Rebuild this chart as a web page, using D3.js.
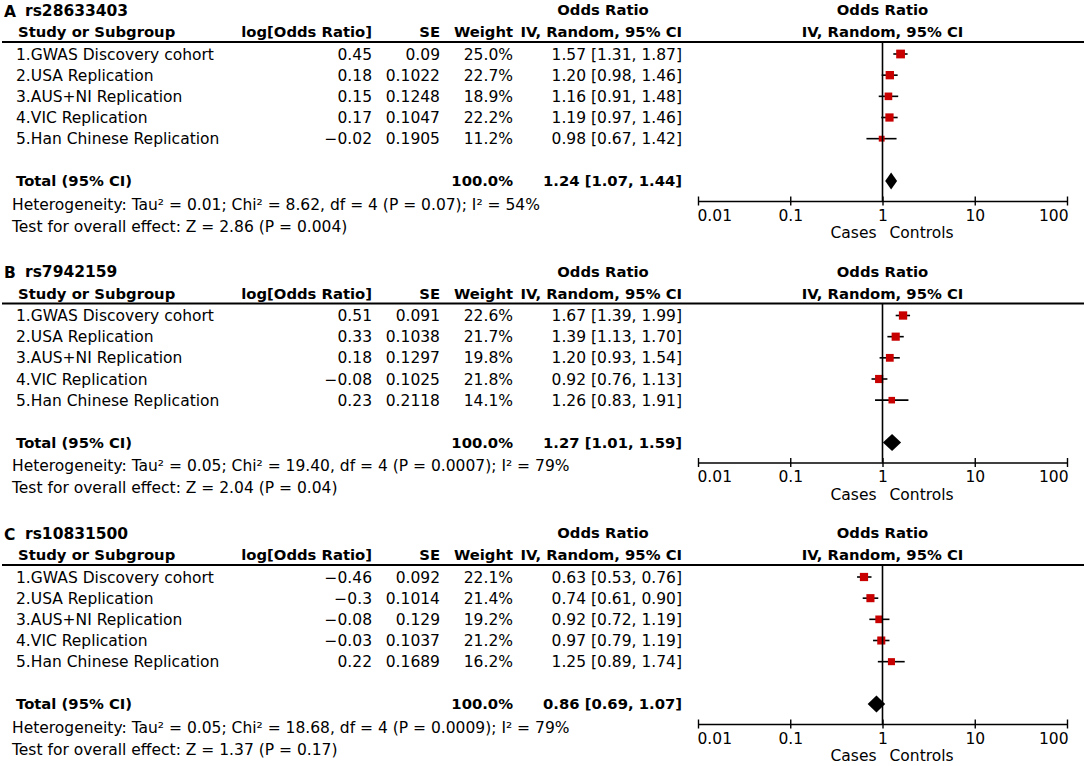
<!DOCTYPE html>
<html lang="en">
  <head>
    <meta charset="UTF-8" />
    <title>Forest plots</title>
    <script src="https://cdn.jsdelivr.net/npm/d3@7"></script>
    <style>
      body { margin: 0; background: #fff; }
      svg text { font-family: "DejaVu Sans", sans-serif; font-size: 15.5px; fill: #000; }
      svg text.b { font-weight: bold; font-size: 14.8px; }
    </style>
  </head>
  <body>
    <div id="container"></div>
    <script>
      // data
      const studies = ['1.GWAS Discovery cohort', '2.USA Replication', '3.AUS+NI Replication', '4.VIC Replication', '5.Han Chinese Replication']
      const panelLetters = ['A', 'B', 'C']
      const snpIds = ['rs28633403', 'rs7942159', 'rs10831500']
      const logOdds = [
        [0.45, 0.18, 0.15, 0.17, -0.02],
        [0.51, 0.33, 0.18, -0.08, 0.23],
        [-0.46, -0.3, -0.08, -0.03, 0.22]
      ]
      const stdErr = [
        [0.09, 0.1022, 0.1248, 0.1047, 0.1905],
        [0.091, 0.1038, 0.1297, 0.1025, 0.2118],
        [0.092, 0.1014, 0.129, 0.1037, 0.1689]
      ]
      const weights = [
        [25.0, 22.7, 18.9, 22.2, 11.2],
        [22.6, 21.7, 19.8, 21.8, 14.1],
        [22.1, 21.4, 19.2, 21.2, 16.2]
      ]
      const oddsRatio = [
        [1.57, 1.20, 1.16, 1.19, 0.98],
        [1.67, 1.39, 1.20, 0.92, 1.26],
        [0.63, 0.74, 0.92, 0.97, 1.25]
      ]
      const ciLow = [
        [1.31, 0.98, 0.91, 0.97, 0.67],
        [1.39, 1.13, 0.93, 0.76, 0.83],
        [0.53, 0.61, 0.72, 0.79, 0.89]
      ]
      const ciHigh = [
        [1.87, 1.46, 1.48, 1.46, 1.42],
        [1.99, 1.70, 1.54, 1.13, 1.91],
        [0.76, 0.90, 1.19, 1.19, 1.74]
      ]
      const totalOr = [1.24, 1.27, 0.86]
      const totalLow = [1.07, 1.01, 0.69]
      const totalHigh = [1.44, 1.59, 1.07]
      const tau2 = ['0.01', '0.05', '0.05']
      const chi2 = ['8.62', '19.40', '18.68']
      const hetP = ['0.07', '0.0007', '0.0009']
      const iSquared = [54, 79, 79]
      const zValue = ['2.86', '2.04', '1.37']
      const zP = ['0.004', '0.04', '0.17']
      const tickValues = [0.01, 0.1, 1, 10, 100]
      const tickLabels = ['0.01', '0.1', '1', '10', '100']

      const width = 1084
      const height = 766
      const panelStep = 261.5

      // column right edges
      const colLog = 372, colSe = 440, colWeight = 513, colCi = 682
      const textLeft = 16

      const x = d3.scaleLog().domain([0.01, 100]).range([698, 1067])
      const y = d3.scaleLinear().domain([0, 6]).range([54, 181])
      const lineY = 42
      const axisY = 201

      const fmtNeg = v => String(v).replace('-', '\u2212')
      const f2 = d3.format('.2f')

      const svg = d3.create('svg')
        .attr('width', width)
        .attr('height', height)
        .attr('viewBox', [0, 0, width, height])

      panelLetters.forEach((letter, p) => {
        const g = svg.append('g').attr('transform', `translate(0, ${p * panelStep})`)

        const txt = (tx, ty, s, anchor = 'start', bold = false) =>
          g.append('text')
            .attr('class', bold ? 'b' : null)
            .attr('x', tx).attr('y', ty).attr('dy', '0.36em')
            .attr('text-anchor', anchor)
            .text(s)

        // titles and headers
        txt(4, 11, letter, 'start', true).style('font-size', '15.5px')
        txt(25, 10, snpIds[p], 'start', true).style('font-size', '15.5px')
        txt(603, 10, 'Odds Ratio', 'middle', true)
        txt(x(1), 10, 'Odds Ratio', 'middle', true)
        txt(textLeft + 2, 32, 'Study or Subgroup', 'start', true)
        txt(colLog, 32, 'log[Odds Ratio]', 'end', true)
        txt(colSe, 32, 'SE', 'end', true)
        txt(colWeight, 32, 'Weight', 'end', true)
        txt(colCi, 32, 'IV, Random, 95% CI', 'end', true)
        txt(x(1), 32, 'IV, Random, 95% CI', 'middle', true)

        g.append('line')
          .attr('x1', 2).attr('x2', width)
          .attr('y1', lineY).attr('y2', lineY)
          .attr('stroke', '#000').attr('stroke-width', 1.8)

        // study rows
        const rows = g.append('g').selectAll('g')
          .data(studies.map((s, i) => ({ s, i })))
          .join('g')
          .attr('transform', d => `translate(0, ${y(d.i)})`)
        rows.append('text').attr('x', textLeft).attr('dy', '0.36em').text(d => d.s)
        rows.append('text').attr('x', colLog).attr('dy', '0.36em').attr('text-anchor', 'end')
          .text(d => fmtNeg(logOdds[p][d.i]))
        rows.append('text').attr('x', colSe).attr('dy', '0.36em').attr('text-anchor', 'end')
          .text(d => String(stdErr[p][d.i]))
        rows.append('text').attr('x', colWeight).attr('dy', '0.36em').attr('text-anchor', 'end')
          .text(d => weights[p][d.i].toFixed(1) + '%')
        rows.append('text').attr('x', colCi).attr('dy', '0.36em').attr('text-anchor', 'end')
          .text(d => `${f2(oddsRatio[p][d.i])} [${f2(ciLow[p][d.i])}, ${f2(ciHigh[p][d.i])}]`)

        // total row
        txt(textLeft, y(6), 'Total (95% CI)', 'start', true)
        txt(colWeight, y(6), '100.0%', 'end', true)
        txt(colCi, y(6), `${f2(totalOr[p])} [${f2(totalLow[p])}, ${f2(totalHigh[p])}]`, 'end', true)

        txt(textLeft - 4, 204, `Heterogeneity: Tau\u00b2 = ${tau2[p]}; Chi\u00b2 = ${chi2[p]}, df = 4 (P = ${hetP[p]}); I\u00b2 = ${iSquared[p]}%`)
        txt(textLeft - 4, 226, `Test for overall effect: Z = ${zValue[p]} (P = ${zP[p]})`)

        // null line
        g.append('line')
          .attr('x1', x(1)).attr('x2', x(1))
          .attr('y1', lineY).attr('y2', axisY)
          .attr('stroke', '#000').attr('stroke-width', 1.6)

        // confidence intervals
        rows.append('line')
          .attr('x1', d => x(ciLow[p][d.i])).attr('x2', d => x(ciHigh[p][d.i]))
          .attr('stroke', '#000').attr('stroke-width', 1.6)

        // weighted squares
        const side = w => 1.75 * Math.sqrt(w)
        rows.append('rect')
          .attr('x', d => x(oddsRatio[p][d.i]) - side(weights[p][d.i]) / 2)
          .attr('y', d => -side(weights[p][d.i]) / 2)
          .attr('width', d => side(weights[p][d.i]))
          .attr('height', d => side(weights[p][d.i]))
          .attr('fill', '#c80000')

        // pooled diamond
        const ty = y(6)
        g.append('path')
          .attr('d', `M${x(totalLow[p])},${ty} L${x(totalOr[p])},${ty - 8.5} L${x(totalHigh[p])},${ty} L${x(totalOr[p])},${ty + 8.5} Z`)
          .attr('fill', '#000')

        // axis
        const ax = g.append('g')
          .attr('transform', `translate(0, ${axisY})`)
          .call(d3.axisBottom(x).tickValues(tickValues).tickSizeOuter(0).tickSizeInner(4.5)
            .tickFormat((d, i) => tickLabels[i]))
        ax.select('.domain').attr('stroke-width', 1.6)
        ax.selectAll('.tick line').attr('y1', -4.5).attr('y2', 4.5).attr('stroke-width', 1.4)
        ax.selectAll('.tick text')
          .attr('y', 8).attr('dy', '0.75em')
          .style('font-family', '"DejaVu Sans", sans-serif').style('font-size', '15.5px')
          .attr('text-anchor', (d, i) => i === 0 ? 'start' : i === tickValues.length - 1 ? 'end' : 'middle')
          .attr('x', (d, i) => i === 0 ? -1 : i === tickValues.length - 1 ? 1 : 0)

        txt(x(1) - 6, 232.5, 'Cases', 'end')
        txt(x(1) + 7, 232.5, 'Controls', 'start')
      })

      d3.select('#container').append(() => svg.node())
    </script>
  </body>
</html>
